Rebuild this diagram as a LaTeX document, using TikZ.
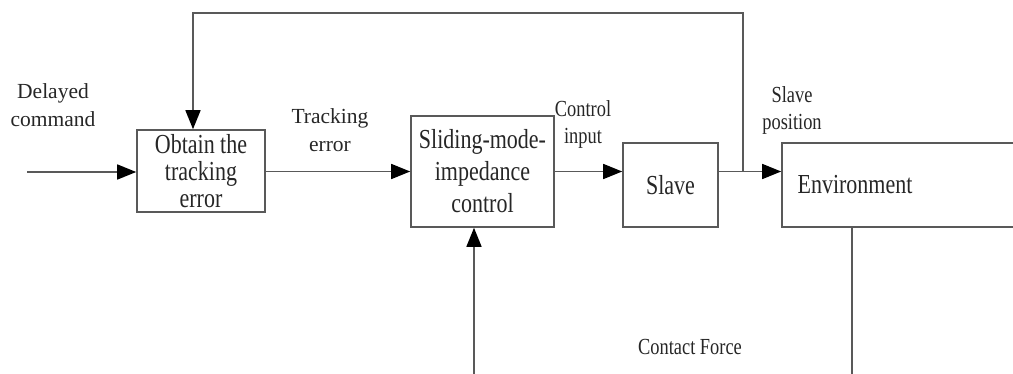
\documentclass[tikz,border=0pt]{standalone}
\usepackage{fontspec}
\setmainfont{Liberation Serif}
\newfontfamily\narrowfont[FakeStretch=0.8]{Liberation Serif}
\usetikzlibrary{positioning,arrows.meta}

\begin{document}
\begin{tikzpicture}[x=1pt,y=-1pt,
    blk/.style={draw=black!65,line width=1.6pt,align=center,inner sep=0pt,
        text=black!85,font=\narrowfont\fontsize{27.5}{27}\selectfont},
    lbl/.style={align=center,text=black!85,font=\fontsize{21.5}{28}\selectfont},
    sml/.style={align=center,text=black!85,font=\narrowfont\fontsize{23}{27}\selectfont},
    wire/.style={draw=black!65,line width=1.6pt},
    sig/.style={wire,-{Triangle[length=19pt,width=15pt,color=black,fill=black]}}]
    \useasboundingbox (0,0) rectangle (1013,374);
    \node[blk,minimum width=128pt,minimum height=82pt] (track) at (201,171) {Obtain the\\tracking\\error};
    \node[blk,minimum width=143pt,minimum height=111pt,font=\narrowfont\fontsize{27.5}{32}\selectfont] (ctrl) at (482.5,171.5) {Sliding-mode-\\impedance\\control};
    \node[blk,minimum width=95pt,minimum height=84pt] (slave) at (670.5,185) {Slave};
    \node[blk,minimum width=248pt,minimum height=84pt] (env) at (906,185) {Environment\hspace{102pt}};
    \coordinate (in) at (27,172);
    \coordinate (tap) at (743,172);
    \coordinate (top) at (193,13);
    \coordinate (fin) at (474,380);
    \coordinate (fout) at (852,380);
    \draw[sig] (in) -- (in -| track.west);
    \draw[sig] (track.east |- ctrl.east) -- (ctrl.east -| ctrl.west);
    \draw[sig] (ctrl.east) -- (ctrl.east -| slave.west);
    \draw[sig] (slave.east |- ctrl.east) -- (env.west |- ctrl.east);
    \draw[sig] (tap) |- (top) -- (top |- track.north);
    \draw[sig] (fin) -- (fin |- ctrl.south);
    \draw[wire] (fout |- env.south) -- (fout);
    \node[lbl] (delay) at (53,105) {Delayed\\command};
    \node[lbl] (err) at (330,130) {Tracking\\error};
    \node[sml] (u) at (583,124) {Control\\input};
    \node[sml] (pos) at (792,110) {Slave\\position};
    \node[sml] (force) at (690,347) {Contact Force};
\end{tikzpicture}
\end{document}
